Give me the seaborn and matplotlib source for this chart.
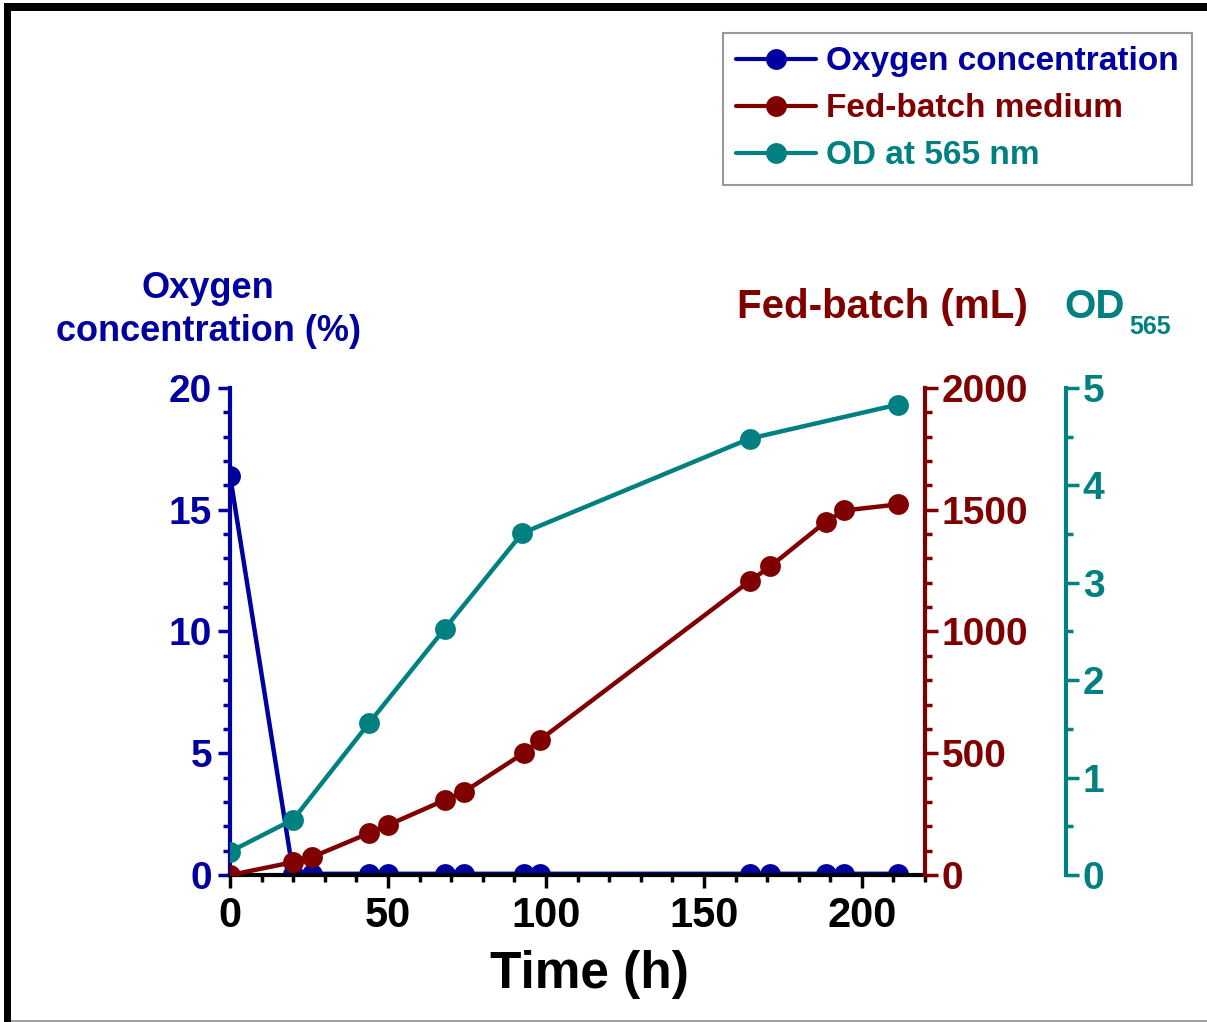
import matplotlib
matplotlib.use("Agg")
import matplotlib.pyplot as plt
import seaborn as sns
from matplotlib.ticker import MultipleLocator
from matplotlib.patches import Rectangle
from matplotlib.lines import Line2D


# Data

time_h = [0, 20, 26, 44, 50, 68, 74, 93, 98, 164.5, 171, 188.5, 194.5, 211.5]
oxygen_pct = [16.4, 0.05, 0.05, 0.05, 0.05, 0.05, 0.05, 0.05, 0.05, 0.05, 0.05, 0.05, 0.05, 0.05]
fed_batch_ml = [0, 53, 74, 172, 205, 308, 341, 501, 554, 1207, 1267, 1450, 1497, 1522]

od_time_h = [0, 20, 44, 68, 92.5, 164.5, 211.5]
od_565 = [0.24, 0.57, 1.56, 2.53, 3.51, 4.48, 4.83]

BLUE = "#0000a0"
RED = "#800000"
TEAL = "#008080"


sns.set_style("ticks")
plt.rcParams["font.family"] = ["Liberation Sans", "DejaVu Sans"]
plt.rcParams["font.weight"] = "bold"

fig = plt.figure(figsize=(12.07, 10.22), dpi=100)
ax = fig.add_axes([0.1906, 0.1438, 0.5758, 0.4766])
ax2 = ax.twinx()
ax3 = ax.twinx()

line_kw = dict(marker="o", markersize=15, linewidth=3.2, markeredgewidth=0)

sns.lineplot(x=time_h, y=oxygen_pct, ax=ax, color=BLUE, **line_kw)
sns.lineplot(x=time_h, y=fed_batch_ml, ax=ax2, color=RED, **line_kw)
sns.lineplot(x=od_time_h, y=od_565, ax=ax3, color=TEAL, **line_kw)

ax.set_xlim(0, 220)
ax.set_ylim(0, 20)
ax2.set_ylim(0, 2000)
ax3.set_ylim(0, 5)

ax.xaxis.set_major_locator(MultipleLocator(50))
ax.xaxis.set_minor_locator(MultipleLocator(10))
ax.yaxis.set_major_locator(MultipleLocator(5))
ax.yaxis.set_minor_locator(MultipleLocator(1))
ax2.yaxis.set_major_locator(MultipleLocator(500))
ax2.yaxis.set_minor_locator(MultipleLocator(100))
ax3.yaxis.set_major_locator(MultipleLocator(1))
ax3.yaxis.set_minor_locator(MultipleLocator(0.5))

for a in (ax, ax2, ax3):
    for s in a.spines.values():
        s.set_visible(False)
    a.set_xlabel("")
    a.set_ylabel("")

ax.spines["bottom"].set_visible(True)
ax.spines["bottom"].set_color("black")
ax.spines["bottom"].set_linewidth(3)
ax.spines["left"].set_visible(True)
ax.spines["left"].set_color(BLUE)
ax.spines["left"].set_linewidth(3)
ax2.spines["right"].set_visible(True)
ax2.spines["right"].set_color(RED)
ax2.spines["right"].set_linewidth(3)
ax3.spines["right"].set_visible(True)
ax3.spines["right"].set_position(("axes", 1.203))
ax3.spines["right"].set_color(TEAL)
ax3.spines["right"].set_linewidth(3)

ax.tick_params(axis="x", which="major", length=9, width=2.5, color="black",
               labelcolor="black", labelsize=30, pad=6)
ax.tick_params(axis="x", which="minor", length=5, width=2.5, color="black")
ax.tick_params(axis="y", which="major", length=9, width=2.5, color=BLUE,
               labelcolor=BLUE, labelsize=28, pad=4)
ax.tick_params(axis="y", which="minor", length=5, width=2.5, color=BLUE)
ax2.tick_params(axis="y", which="major", length=9, width=2.5, color=RED,
                labelcolor=RED, labelsize=28, pad=3)
ax2.tick_params(axis="y", which="minor", length=5, width=2.5, color=RED)
ax3.tick_params(axis="y", which="major", length=9, width=2.5, color=TEAL,
                labelcolor=TEAL, labelsize=28, pad=3)
ax3.tick_params(axis="y", which="minor", length=5, width=2.5, color=TEAL)

for lab in ax.get_xticklabels() + ax.get_yticklabels():
    lab.set_fontweight("bold")
for lab in ax2.get_yticklabels() + ax3.get_yticklabels():
    lab.set_fontweight("bold")

ax.set_xlabel("Time (h)", fontsize=37, fontweight="bold", color="black")
ax.xaxis.set_label_coords(0.517, -0.153)

# axis titles
fig.text(208 / 1207, 1 - 310 / 1022, "Oxygen\nconcentration (%)", color=BLUE,
         fontsize=26, fontweight="bold", ha="center", va="center",
         linespacing=1.3)
fig.text(882 / 1207, 1 - 307 / 1022, "Fed-batch (mL)", color=RED,
         fontsize=29, fontweight="bold", ha="center", va="center")
fig.text(1064 / 1207, 1 - 318 / 1022, "OD", color=TEAL,
         fontsize=29, fontweight="bold", ha="left", va="baseline")
fig.text(1129 / 1207, 1 - 334 / 1022, "565", color=TEAL,
         fontsize=18, fontweight="bold", ha="left", va="baseline")

# legend
handles = [
    Line2D([], [], color=BLUE, marker="o", markersize=15, markeredgewidth=0, linewidth=3),
    Line2D([], [], color=RED, marker="o", markersize=15, markeredgewidth=0, linewidth=3),
    Line2D([], [], color=TEAL, marker="o", markersize=15, markeredgewidth=0, linewidth=3),
]
labels = ["Oxygen concentration", "Fed-batch medium", "OD at 565 nm"]
leg = fig.legend(handles, labels, loc="upper right",
                 bbox_to_anchor=(1192 / 1207, 1 - 33 / 1022),
                 fontsize=24, frameon=True, fancybox=False,
                 edgecolor="#808080", handlelength=2.4, handletextpad=0.3,
                 labelspacing=0.48, borderpad=0.4, borderaxespad=0)
leg.get_frame().set_linewidth(1.5)
for txt, c in zip(leg.get_texts(), [BLUE, RED, TEAL]):
    txt.set_color(c)
    txt.set_fontweight("bold")

# frame around the figure
fig.add_artist(Rectangle((0.003, 0.0), 0.006, 0.995, transform=fig.transFigure,
                         color="black", lw=0))
fig.add_artist(Rectangle((0.003, 0.989), 0.997, 0.008, transform=fig.transFigure,
                         color="black", lw=0))
fig.add_artist(Rectangle((0.009, 0.0), 0.991, 0.002, transform=fig.transFigure,
                         color="#a0a0a0", lw=0))

fig.savefig("out.png", dpi=100)
